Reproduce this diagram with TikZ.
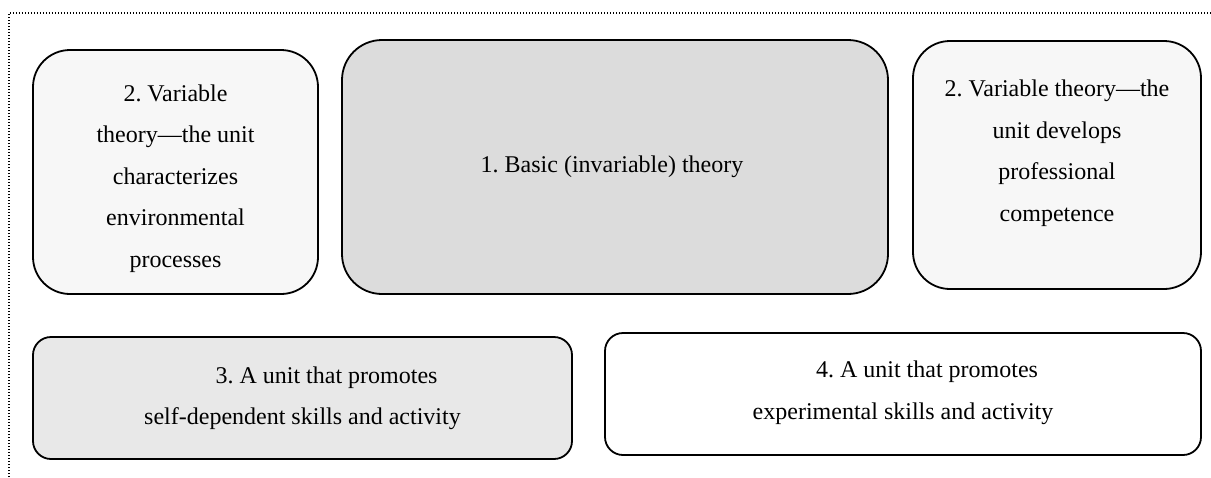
\documentclass[tikz,border=0pt]{standalone}
\usepackage{fontspec}
\setmainfont{Liberation Serif}
\usetikzlibrary{positioning}
\definecolor{unitlight}{RGB}{247,247,247}
\definecolor{unitmid}{RGB}{232,232,232}
\definecolor{unitdark}{RGB}{220,220,220}
\tikzset{
unit/.style={draw, line width=1.8pt, rounded corners=37pt, inner sep=0pt}, % big rounded box
flatunit/.style={unit, rounded corners=18pt}, % lower, flatter boxes
unittext/.style={align=center, inner sep=0pt, font=\fontsize{24pt}{41.5pt}\selectfont}, % text in a box
frame/.style={line width=1.2pt, dash pattern=on 1.2pt off 1.8pt}, % dotted page frame
}
\frenchspacing

\begin{document}
\begin{tikzpicture}[x=1pt, y=-1pt]
    \useasboundingbox (0,0) rectangle (1211,477);
    % dotted frame, open to the right and below
    \coordinate (fbl) at (9,477);
    \coordinate (ftl) at (9,13);
    \coordinate (ftr) at (1211,13);
    \draw[frame] (fbl) -- (ftl) -- (ftr);

    % upper row
    \node[unit, fill=unitlight, minimum width=285pt, minimum height=244pt] (varl) at (175.5,172) {};
    \node[unit, fill=unitdark, minimum width=546pt, minimum height=254pt, rounded corners=40pt] (basic) at (615,167) {};
    \node[unit, fill=unitlight, minimum width=288pt, minimum height=248pt] (varr) at (1057,165) {};
    \node[unittext] (varl-t) at (175.5,178.7) {2. Variable\\theory---the unit\\characterizes\\environmental\\processes};
    \node[unittext] (basic-t) at (612,167) {1. Basic (invariable) theory};
    \node[unittext] (varr-t) at (1057,153) {2. Variable theory---the\\unit develops\\professional\\competence};

    % lower row
    \node[flatunit, fill=unitmid, minimum width=539pt, minimum height=122pt] (selfd) at (302.5,398) {};
    \node[flatunit, fill=white, minimum width=596pt, minimum height=122pt] (exper) at (903,394) {};
    \node[unittext] (selfd-t) at (302.5,398.5) {\hspace*{2em}3. A unit that promotes\\self-dependent skills and activity};
    \node[unittext] (exper-t) at (903,393) {\hspace*{2em}4. A unit that promotes\\experimental skills and activity};
\end{tikzpicture}
\end{document}
